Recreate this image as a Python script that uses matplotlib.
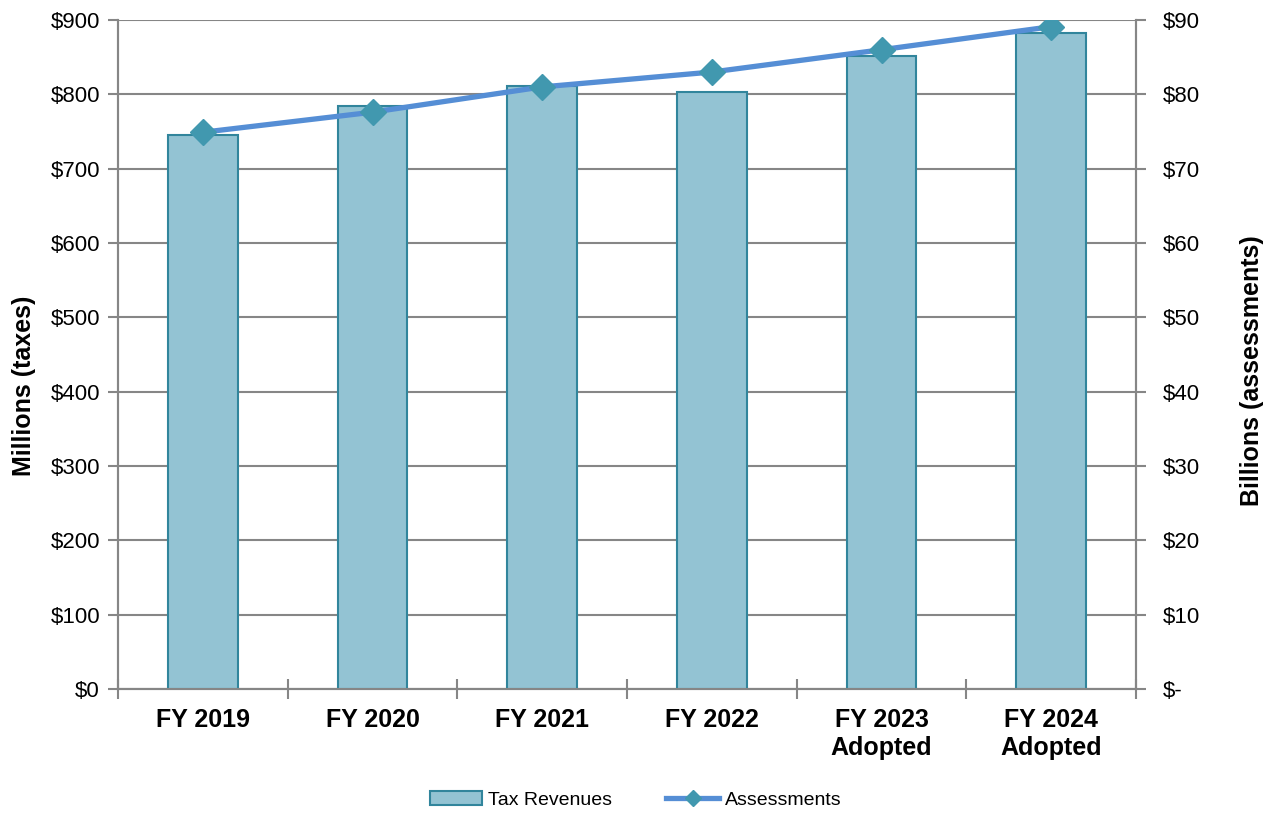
import matplotlib
matplotlib.use("Agg")
import matplotlib.pyplot as plt
from matplotlib.lines import Line2D
from matplotlib.patches import Patch
import numpy as np

plt.rcParams['font.family'] = ['Liberation Sans', 'DejaVu Sans']

categories = ["FY 2019", "FY 2020", "FY 2021", "FY 2022", "FY 2023\nAdopted", "FY 2024\nAdopted"]
tax_revenues = [745, 784, 811, 803, 852, 883]      # millions
assessments = [74.9, 77.6, 81.0, 83.0, 86.0, 89.1]  # billions
left_ticks = [0, 100, 200, 300, 400, 500, 600, 700, 800, 900]
left_labels = ["$0", "$100", "$200", "$300", "$400", "$500", "$600", "$700", "$800", "$900"]
right_ticks = [0, 10, 20, 30, 40, 50, 60, 70, 80, 90]
right_labels = ["$-", "$10", "$20", "$30", "$40", "$50", "$60", "$70", "$80", "$90"]

grid_c = "#868686"
bar_c = "#93C3D3"
bar_edge = "#31859C"
line_c = "#558ED5"
marker_c = "#4198AF"

fig = plt.figure(figsize=(12.71, 8.13), dpi=100)
ax = fig.add_axes([118/1271, 1-689/813, (1136-118)/1271, (689-20)/813])
x = np.arange(len(categories))
ax.bar(x, tax_revenues, width=0.41, color=bar_c, edgecolor=bar_edge, linewidth=1.5, zorder=3)
ax.set_xlim(-0.5, len(categories)-0.5)
ax.set_ylim(0, 900)
ax.set_yticks(left_ticks)
ax.set_yticklabels(left_labels, fontsize=16)
ax.yaxis.grid(True, color=grid_c, linewidth=1.5, zorder=0)
ax.set_axisbelow(True)
ax.set_xticks(x)
ax.set_xticklabels(categories, fontsize=18, fontweight='bold', linespacing=1.2)
ax.tick_params(axis='x', length=0, pad=14)
ax.set_xticks(np.arange(-0.5, len(categories), 1.0), minor=True)
ax.tick_params(axis='x', which='minor', direction='inout', length=14, width=1.5, color=grid_c)
ax.tick_params(axis='y', direction='out', length=7, width=1.5, color=grid_c, pad=6)
for s in ['left', 'bottom', 'right']:
    ax.spines[s].set_color(grid_c)
    ax.spines[s].set_linewidth(1.5)
ax.spines['top'].set_visible(False)
ax.set_ylabel("Millions (taxes)", fontsize=18, fontweight='bold')
ax.yaxis.set_label_coords((36-118)/1018, (689-386)/669)

ax2 = ax.twinx()
ax2.plot(x, assessments, color=line_c, linewidth=3.8, marker='D', markersize=13,
         markerfacecolor=marker_c, markeredgecolor=marker_c, zorder=5)
ax2.set_ylim(0, 90)
ax2.set_yticks(right_ticks)
ax2.set_yticklabels(right_labels, fontsize=16)
ax2.tick_params(axis='y', direction='out', length=7, width=1.5, color=grid_c, pad=12)
for s in ['left', 'bottom', 'right']:
    ax2.spines[s].set_color(grid_c)
    ax2.spines[s].set_linewidth(1.5)
ax2.spines['top'].set_visible(False)
ax2.set_ylabel("Billions (assessments)", fontsize=18, fontweight='bold')
ax2.yaxis.set_label_coords((1240-118)/1018, (689-371)/669)

handles = [Patch(facecolor=bar_c, edgecolor=bar_edge, linewidth=1.5),
           Line2D([0], [0], color=line_c, linewidth=3.8, marker='D', markersize=8,
                  markerfacecolor=marker_c, markeredgecolor=marker_c)]
fig.legend(handles, ["Tax Revenues", "Assessments"], loc='center', bbox_to_anchor=(0.5, 1-800/813),
           ncol=2, frameon=False, fontsize=14, handlelength=2.7, columnspacing=2.8, handletextpad=0.3)

fig.savefig("out.png", dpi=100)
